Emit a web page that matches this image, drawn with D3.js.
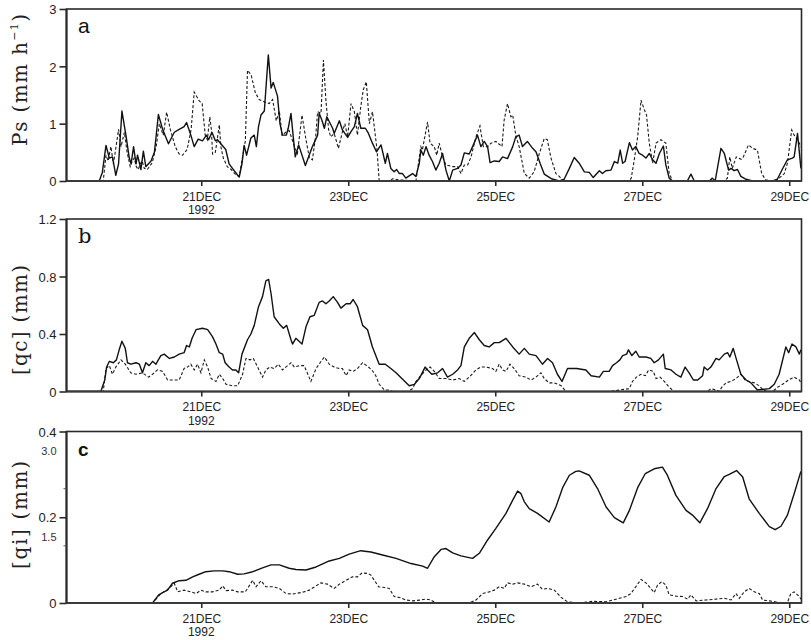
<!DOCTYPE html>
<html><head><meta charset="utf-8">
<script src="https://cdn.jsdelivr.net/npm/d3@7"></script>
<style>body{margin:0;background:#fff}svg{display:block}</style>
</head><body>
<svg id="chart" width="811" height="640"></svg>
<script>
// time in hours since 19DEC1992 00Z
const psSolid = [[4,0],[14.7,0],[15.7,0.15],[16.9,0.62],[18,0.4],[19,0.42],[20.1,0.1],[21,0.3],[22.1,1.22],[23.4,0.8],[24.5,0.4],[25.1,0.3],[25.9,0.6],[26.7,0.3],[27.2,0.45],[28.3,0.2],[29.1,0.52],[29.9,0.25],[31.6,0.35],[32.7,0.5],[33.2,0.75],[34,1.16],[35.4,0.9],[37.3,0.65],[39.2,0.85],[40.8,0.9],[42.4,0.95],[43.2,1.02],[44.6,0.8],[45.7,0.6],[47,0.73],[48.4,0.7],[49.7,0.8],[50.4,0.72],[51.5,0.85],[52.6,0.7],[53.3,0.72],[54.4,0.65],[56,0.55],[57.1,0.3],[58.2,0.22],[59.9,0.1],[60.4,0.07],[61.3,0.3],[62,0.62],[62.8,0.45],[64.2,0.75],[65.3,0.8],[66,0.6],[66.7,0.95],[67.5,1.15],[68.6,1.22],[69.1,1.6],[69.9,2.2],[70.8,1.62],[71.5,1.72],[72.9,1.48],[73.7,1.0],[74.5,0.8],[75.8,0.8],[76.4,0.92],[77.3,1.18],[77.8,0.9],[78.7,0.42],[79.8,0.63],[82,0.27],[84.3,0.6],[86,0.8],[86.5,1.18],[87.4,1.06],[88.2,0.92],[89,1.12],[90.9,0.92],[91.4,0.83],[93.1,1.05],[94.1,0.89],[95.8,0.76],[96.9,0.86],[98,0.95],[99,1.18],[100.1,0.92],[101.6,0.92],[102.6,0.83],[103.9,0.66],[105.2,0.51],[106.7,0.63],[108.1,0.31],[108.8,0.48],[109.9,0.22],[111,0.16],[111.8,0.2],[112.7,0.13],[113.7,0.13],[114.8,0.05],[117,0.13],[118.1,0.08],[119.2,0.31],[119.7,0.54],[120.5,0.45],[121.4,0.6],[122.4,0.45],[123.5,0.34],[124.6,0.19],[125.7,0.31],[126.8,0.48],[127.9,0.19],[129,0],[130.1,0.19],[131.7,0.22],[132.8,0.28],[133.9,0.49],[135.5,0.47],[136.6,0.6],[138.2,0.8],[139.3,0.6],[140.4,0.69],[141.5,0.6],[142.3,0.32],[143.7,0.35],[145.3,0.34],[146.4,0.42],[148,0.39],[149.7,0.6],[150.7,0.77],[151.8,0.8],[152.9,0.6],[154.5,0.69],[156.2,0.57],[157.3,0.51],[158.7,0.3],[160,0.12],[162.3,0.04],[164.9,0],[166.5,0.03],[168.2,0.22],[169.8,0.41],[171.4,0.31],[173.1,0.16],[174.7,0.15],[176,0.06],[178,0.18],[179,0.13],[180.1,0.18],[181.8,0.19],[182.9,0.34],[184,0.31],[184.8,0.54],[185.6,0.31],[186.4,0.34],[187.8,0.67],[188.8,0.54],[189.9,0.6],[191,0.48],[192.1,0.45],[193.2,0.4],[194.3,0.48],[195.4,0.37],[196.5,0.31],[197.6,0.48],[198.9,0.61],[199.7,0.28],[200.8,0.05],[201.9,0],[206.7,0],[207.9,0.12],[209,0],[213.9,0],[214.9,0.05],[215.8,0],[216.8,0.3],[217.7,0.57],[218.8,0.48],[220.2,0.19],[221,0.22],[222,0.18],[223.1,0.2],[224.2,0.08],[225.9,0.03],[228,0],[234.6,0],[236.1,0.03],[237.7,0.2],[239.4,0.37],[241,0.4],[241.6,0.42],[242.7,0.83],[243.3,0.5],[243.8,0.22]];
const psDashed = [[4,0],[16,0],[16.9,0.45],[17.6,0.35],[18.5,0.6],[19.3,0.3],[19.9,0.5],[21,0.9],[21.8,0.6],[22.9,0.85],[23.8,0.5],[24.8,0.25],[25.5,0.35],[26.1,0.4],[26.8,0.25],[27.4,0.2],[28.1,0.3],[28.7,0.35],[29.4,0.22],[30.4,0.2],[32,0.32],[33.3,0.6],[34.3,1.0],[35.6,0.8],[36.7,1.2],[37.9,0.9],[39.5,0.6],[40.8,0.47],[41.9,0.45],[43.4,0.55],[44.7,0.9],[45.7,1.55],[47.3,1.4],[48.3,1.35],[49.3,0.8],[50,0.72],[50.8,1.12],[51.3,0.9],[51.7,0.47],[52.6,0.5],[53.3,0.75],[53.9,0.98],[54.4,0.6],[55.2,0.4],[56.5,0.25],[57.8,0.2],[59.1,0.12],[60.4,0.08],[61.4,0.4],[62.4,0.7],[63.1,1.93],[64.3,1.85],[65.6,1.55],[66.9,1.42],[68.6,1.38],[70.2,1.35],[71.3,1.42],[72.5,1.05],[73.5,1.22],[74.4,0.8],[75.6,0.85],[76.7,0.88],[77.7,0.72],[78.4,0.6],[79.4,0.48],[80.9,1.15],[82.2,0.72],[83.3,0.4],[84.3,0.37],[85.4,0.8],[86,1.21],[87.1,1.18],[87.9,2.11],[88.7,1.41],[89.6,0.89],[90.3,0.77],[91.4,0.83],[92.8,0.57],[94.1,0.86],[94.9,1.0],[95.8,0.77],[96.9,1.35],[98,1.21],[99,0.8],[100.1,1.3],[100.9,1.59],[101.9,1.73],[102.9,1.0],[103.9,1.21],[104.5,0.95],[105.4,0.54],[106.1,0],[109.4,0],[110.5,0.04],[112.7,0.02],[118.1,0],[118.9,0.3],[119.7,0.6],[120.2,0.54],[121.1,0.8],[121.9,1.03],[122.7,0.66],[124.1,0.6],[124.9,0.45],[125.7,0.66],[126.8,0.42],[127.9,0.28],[130.1,0.25],[131.7,0.25],[132.8,0.13],[133.9,0.28],[135,0.28],[136.1,0.42],[137.7,0.77],[139,0.96],[140.1,0.6],[141.5,0.6],[142.6,0.66],[144.2,0.69],[146.2,0.6],[146.9,1.06],[148,1.35],[149.1,1.12],[149.7,1.15],[150.7,0.8],[151.8,0.6],[153.5,0.13],[155.1,0.05],[156.7,0.16],[158.4,0.48],[160,0.74],[161,0.72],[162.2,0.4],[163.8,0.13],[164.9,0.08],[166.2,0],[187.8,0],[188.4,0.05],[189.4,0.37],[190.5,0.77],[191.6,1.41],[192.7,1.24],[193.4,1.15],[194.3,0.66],[195.4,0.31],[196.5,0.66],[198.1,0.72],[199.7,0.66],[200.8,0.13],[201.9,0],[218.8,0],[219.8,0.05],[220.6,0.42],[221.4,0.22],[222.7,0.42],[224.3,0.38],[225,0.42],[226.7,0.63],[228,0.57],[229.6,0.54],[231,0.13],[232.3,0.02],[234.6,0],[236.1,0.02],[238.4,0.13],[239.4,0.31],[240.8,0.89],[241.6,0.8],[242.7,0.72],[243.8,0.6]];
const qcSolid = [[4,0],[15.2,0],[16.5,0.08],[17.1,0.17],[18,0.21],[19.3,0.2],[20.3,0.22],[21.2,0.29],[22.1,0.35],[23.2,0.3],[23.9,0.2],[25,0.19],[26.7,0.2],[27.8,0.19],[28.8,0.13],[29.9,0.2],[31,0.18],[32.1,0.21],[33.2,0.19],[34.8,0.25],[35.9,0.26],[37.6,0.23],[39.2,0.24],[40.8,0.26],[42.4,0.27],[43.2,0.32],[44.1,0.31],[45,0.37],[46.3,0.43],[48.4,0.44],[50.1,0.43],[51.7,0.38],[52.8,0.33],[53.9,0.27],[55,0.26],[55.8,0.2],[57.1,0.17],[58.2,0.15],[59.3,0.15],[60.2,0.13],[61.3,0.26],[63.1,0.36],[64.2,0.4],[65.3,0.46],[66.7,0.59],[68,0.66],[69.1,0.77],[70,0.78],[70.8,0.68],[71.8,0.52],[73.5,0.47],[74.8,0.44],[75.9,0.46],[77.3,0.36],[77.8,0.33],[78.9,0.37],[80.9,0.33],[82.2,0.45],[83.5,0.52],[84.9,0.53],[86.5,0.62],[87.6,0.63],[88.7,0.61],[89.8,0.63],[91.1,0.66],[92.5,0.62],[93.6,0.58],[95.3,0.61],[96.6,0.61],[97.6,0.64],[99,0.59],[100.7,0.46],[102.3,0.43],[103.9,0.31],[106.1,0.19],[108.1,0.19],[109.9,0.16],[111.6,0.13],[113.5,0.09],[115.9,0.04],[117.6,0.05],[119.2,0.09],[121.1,0.17],[121.9,0.15],[123.3,0.12],[125.2,0.13],[126.8,0.16],[128.4,0.1],[130.1,0.12],[131.7,0.15],[132.8,0.18],[133.9,0.31],[135.5,0.37],[137.2,0.41],[138.8,0.36],[140.4,0.32],[142,0.31],[143.7,0.34],[145.3,0.34],[147.5,0.37],[149.7,0.31],[151.8,0.26],[153.5,0.3],[155.1,0.26],[157.3,0.25],[159.4,0.19],[161.1,0.23],[162.7,0.2],[164.3,0.12],[165.8,0.07],[167.6,0.16],[170.6,0.16],[173.6,0.15],[175.3,0.11],[178,0.1],[179.3,0.14],[181.2,0.14],[182.3,0.18],[183.6,0.2],[184.7,0.22],[185.6,0.25],[186.9,0.26],[187.5,0.29],[188.6,0.25],[189.9,0.28],[191,0.24],[193.2,0.24],[194.8,0.23],[195.9,0.2],[197.3,0.22],[198.9,0.26],[199.5,0.16],[201.4,0.15],[203,0.12],[204.6,0.1],[206,0.17],[207.3,0.13],[208.7,0.08],[210.1,0.08],[211.7,0.11],[212.2,0.17],[213.3,0.15],[214.4,0.17],[216.1,0.23],[217.1,0.22],[218.8,0.26],[219.9,0.27],[220.6,0.24],[221.7,0.3],[222.8,0.22],[224.2,0.12],[225.9,0.08],[227.5,0.06],[229.6,0.01],[233.5,0.02],[235.1,0.05],[236.7,0.12],[238.9,0.31],[239.8,0.27],[240.9,0.33],[242.2,0.31],[243.3,0.26],[243.8,0.29]];
const qcDashed = [[4,0],[16,0],[16.9,0.16],[18,0.18],[19,0.12],[20.1,0.17],[21.8,0.22],[23.2,0.19],[25,0.13],[26.7,0.12],[28.8,0.13],[30.8,0.1],[32.1,0.12],[33.7,0.15],[35.4,0.14],[37,0.08],[39.2,0.08],[40.8,0.08],[42.4,0.16],[43.5,0.17],[44.6,0.19],[45.7,0.15],[46.8,0.19],[47.9,0.13],[49,0.22],[50.1,0.17],[51.2,0.09],[52.8,0.07],[53.9,0.12],[55,0.09],[56.1,0.05],[58.2,0.04],[59.9,0.04],[61.5,0.12],[62.6,0.23],[63.9,0.22],[65,0.23],[66.4,0.17],[68,0.1],[69.1,0.15],[70.4,0.17],[71.8,0.16],[73.2,0.19],[74.5,0.15],[76.2,0.18],[77.3,0.2],[78.4,0.17],[80,0.18],[81.6,0.18],[83.8,0.07],[85.5,0.16],[86.8,0.2],[88.2,0.24],[89.8,0.19],[91.4,0.17],[93.1,0.16],[94.1,0.16],[95.3,0.11],[96.3,0.15],[97.6,0.14],[99,0.16],[100.7,0.2],[102,0.18],[103.7,0.15],[105,0.11],[106.1,0.05],[107.8,0.01],[109.4,0.01],[110.5,0],[115.4,0],[117,0.02],[118.1,0.07],[119.7,0.11],[121.4,0.15],[122.7,0.17],[124.1,0.14],[125.7,0.09],[127.9,0.09],[130.1,0.08],[132.2,0.09],[133.9,0.07],[135.5,0.1],[137.7,0.15],[139.3,0.17],[141,0.17],[143.1,0.16],[144.2,0.14],[145.3,0.19],[146.4,0.15],[147.5,0.14],[148.8,0.19],[150.2,0.16],[151.8,0.11],[154,0.1],[155.7,0.08],[157.3,0.1],[158.9,0.13],[160,0.09],[161.6,0.06],[163.3,0.06],[165.5,0.04],[167.1,0],[181.2,0],[184.5,0.01],[187.8,0.02],[188.8,0.07],[190.1,0.1],[191.6,0.12],[193,0.11],[194.1,0.15],[195.6,0.14],[196.5,0.09],[197.8,0.1],[199.2,0.07],[200.8,0.03],[202.4,0],[213.3,0],[214.4,0.02],[216.1,0.01],[217.1,0],[218,0.03],[219.3,0.06],[220.9,0.07],[222.6,0.09],[224.2,0.12],[225.6,0.08],[226.9,0.07],[228.6,0.06],[230.2,0.04],[231.5,0.01],[232.9,0],[234.6,0],[236.2,0.03],[237.8,0.05],[239.8,0.08],[241.6,0.1],[243.3,0.08],[243.8,0.06]];
const qiSolid = [[4,0],[32.1,0],[34.1,0.019],[35.4,0.024],[37,0.03],[38.6,0.046],[40.8,0.052],[43,0.053],[45.2,0.061],[47.3,0.067],[49.5,0.073],[52.2,0.075],[55,0.075],[57.1,0.073],[59.9,0.067],[62,0.068],[64.8,0.073],[68,0.082],[70.8,0.089],[73.5,0.089],[76.7,0.081],[78.9,0.078],[82.2,0.077],[85.5,0.084],[89.8,0.098],[93.1,0.104],[96.3,0.114],[100.1,0.122],[103.4,0.119],[107.2,0.112],[111.6,0.104],[116.5,0.092],[120.3,0.086],[121.9,0.081],[124.1,0.108],[126.3,0.125],[127.9,0.127],[130.1,0.117],[132.8,0.11],[136.6,0.104],[138.8,0.116],[141.5,0.147],[144.2,0.174],[147.5,0.209],[149.7,0.24],[151.3,0.261],[152.4,0.255],[153.5,0.236],[155.1,0.22],[157.8,0.209],[161.6,0.189],[163.8,0.224],[166,0.269],[168.2,0.298],[170.3,0.307],[171.4,0.308],[174.7,0.298],[177.4,0.267],[180.2,0.224],[182.9,0.199],[185.8,0.187],[187.8,0.216],[190.5,0.269],[193,0.302],[195.9,0.313],[198.6,0.317],[200.2,0.298],[203,0.251],[206.3,0.216],[208.4,0.205],[210.8,0.187],[213.3,0.22],[216.1,0.267],[218.8,0.295],[220.4,0.3],[222.8,0.309],[224.8,0.294],[226.9,0.243],[230.2,0.209],[233.5,0.178],[235.4,0.171],[237.3,0.179],[239.4,0.205],[241.6,0.255],[243.8,0.307]];
const qiDashed = [[4,0],[32.1,0],[34.8,0.022],[36.5,0.029],[38.1,0.038],[39.2,0.046],[40.3,0.026],[42.4,0.03],[44.6,0.026],[46.3,0.022],[47.9,0.03],[49.5,0.026],[51.7,0.026],[53.9,0.03],[55,0.04],[56.1,0.029],[58.2,0.03],[59.9,0.026],[62.4,0.026],[64.8,0.053],[65.9,0.038],[67.5,0.052],[69.1,0.038],[71.3,0.038],[73.5,0.034],[75.7,0.022],[77.8,0.021],[81.1,0.025],[83.3,0.03],[85.5,0.04],[87.1,0.047],[89.2,0.044],[91.4,0.034],[93.1,0.044],[95.3,0.053],[97.4,0.061],[99,0.061],[100.5,0.07],[102.3,0.069],[103.4,0.065],[105.9,0.038],[107.8,0.036],[109.4,0.034],[111,0.015],[112.7,0.013],[114.8,0.007],[117,0.005],[119.7,0.007],[121.4,0.009],[123,0.007],[124.6,0],[135.5,0],[137.7,0.007],[139.9,0.022],[142,0.026],[143.7,0.03],[145.3,0.038],[146.9,0.034],[148,0.047],[149.7,0.044],[151.3,0.047],[153.5,0.044],[155.7,0.038],[157.8,0.044],[159.4,0.032],[161.1,0.034],[163.3,0.03],[165.5,0.013],[167.6,0.003],[169.8,0.001],[171.4,0],[175.8,0.004],[180.2,0.003],[182.3,0.007],[184.5,0.011],[186.7,0.015],[188.3,0.022],[189.9,0.038],[191.6,0.055],[193.2,0.047],[194.8,0.034],[195.9,0.024],[197,0.042],[198.4,0.05],[199.7,0.042],[200.8,0.019],[203,0.016],[205.2,0.015],[206.8,0.009],[207.9,0.019],[209.6,0.005],[212.8,0.007],[216.1,0.009],[218.8,0.011],[221,0.007],[222.6,0.022],[223.7,0.011],[225.3,0.026],[226.9,0.034],[228.6,0.026],[230.2,0.022],[231.3,0.007],[233.5,0.005],[236.7,0.001],[239.4,0.001],[240.5,0.022],[241.6,0.026],[243.3,0.015],[243.8,0.009]];

const timeDomain = [4, 244];
const xTickHours = [48, 96, 144, 192, 240];
const xTickLabels = ["21DEC", "23DEC", "25DEC", "27DEC", "29DEC"];
const yearLabel = "1992";
const psTicks = [0, 1, 2, 3];
const psTickLabels = ["0", "1", "2", "3"];
const qcTicks = [0, 0.4, 0.8, 1.2];
const qcTickLabels = ["0", "0.4", "0.8", "1.2"];
const qiTicks = [0, 0.2, 0.4];
const qiTickLabels = ["0", "0.2", "0.4"];
const qiAltTicks = [1.5, 3.0];
const qiAltTickLabels = ["1.5", "3.0"];

const svg = d3.select("#chart");
const left = 66.5, right = 801.5;
const x = d3.scaleLinear().domain(timeDomain).range([left, right]);

const panels = [
  {top: 9, bottom: 181, dom: [0, 3], ticks: psTicks, labels: psTickLabels, solid: psSolid, dashed: psDashed,
   letter: "a", letterFont: "'Liberation Sans', Arial, sans-serif", letterSize: 21, letterWeight: "normal",
   ylab: ["Ps (mm h", "−1", ")"], labLen: 132, labCenter: 80},
  {top: 219, bottom: 391.5, dom: [0, 1.2], ticks: qcTicks, labels: qcTickLabels, solid: qcSolid, dashed: qcDashed,
   letter: "b", letterFont: "'DejaVu Serif', serif", letterSize: 21, letterWeight: "normal",
   ylab: ["[qc] (mm)"], labLen: 110, labCenter: 320},
  {top: 431.5, bottom: 603, dom: [0, 0.4], ticks: qiTicks, labels: qiTickLabels, solid: qiSolid, dashed: qiDashed,
   letter: "c", letterFont: "'Liberation Sans', Arial, sans-serif", letterSize: 19, letterWeight: "bold",
   ylab: ["[qi] (mm)"], labLen: 108, labCenter: 515}
];

const axisColor = "#2a2a2a";
const tickFont = "'Liberation Sans', Arial, sans-serif";

panels.forEach((p, i) => {
  const y = d3.scaleLinear().domain(p.dom).range([p.bottom, p.top]);
  const g = svg.append("g");
  const clipId = "clip" + i;
  svg.append("clipPath").attr("id", clipId).append("rect")
    .attr("x", left).attr("y", p.top - 1).attr("width", right - left).attr("height", p.bottom - p.top + 1);

  const line = d3.line().x(d => x(d[0])).y(d => y(d[1]));
  g.append("path").datum(p.dashed).attr("d", line).attr("clip-path", `url(#${clipId})`)
    .attr("fill", "none").attr("stroke", "#1a1a1a").attr("stroke-width", 1.1).attr("stroke-dasharray", "3,2");
  g.append("path").datum(p.solid).attr("d", line).attr("clip-path", `url(#${clipId})`)
    .attr("fill", "none").attr("stroke", "#111").attr("stroke-width", 1.4).attr("stroke-linejoin", "round");

  // frame
  g.append("rect").attr("x", left).attr("y", p.top).attr("width", right - left).attr("height", p.bottom - p.top)
    .attr("fill", "none").attr("stroke", axisColor).attr("stroke-width", 1.6);
  g.append("line").attr("x1", left).attr("x2", right).attr("y1", p.bottom).attr("y2", p.bottom)
    .attr("stroke", "#3a3a3a").attr("stroke-width", 2.2);
  g.append("line").attr("x1", left).attr("x2", left).attr("y1", p.top).attr("y2", p.bottom)
    .attr("stroke", axisColor).attr("stroke-width", 2);

  // x axis
  const xAxis = d3.axisBottom(x).tickValues(xTickHours).tickSize(5).tickPadding(4)
    .tickFormat((d, j) => xTickLabels[j]);
  const xg = g.append("g").attr("transform", `translate(0,${p.bottom})`).call(xAxis);
  xg.select(".domain").remove();
  xg.selectAll(".tick line").attr("stroke", axisColor).attr("stroke-width", 1.6);
  xg.selectAll(".tick text").attr("font-family", tickFont)
    .attr("font-size", 12).attr("fill", "#222").attr("y", 19.5).attr("dy", 0);
  g.append("text").attr("x", x(xTickHours[0])).attr("y", p.bottom + 33).attr("text-anchor", "middle")
    .attr("font-family", tickFont).attr("font-size", 12).attr("fill", "#222")
    .text(yearLabel);

  // y axis
  const yAxis = d3.axisLeft(y).tickValues(p.ticks).tickSize(7).tickPadding(3)
    .tickFormat((d, j) => p.labels[j]);
  const yg = g.append("g").attr("transform", `translate(${left},0)`).call(yAxis);
  yg.select(".domain").remove();
  yg.selectAll(".tick line").attr("stroke", axisColor).attr("stroke-width", 1.6);
  yg.selectAll(".tick text").attr("font-family", tickFont)
    .attr("font-size", 13).attr("fill", "#222").attr("dy", "0.36em");

  // panel letter
  g.append("text").attr("x", 78).attr("y", p.top + 24)
    .attr("font-family", p.letterFont).attr("font-size", p.letterSize).attr("font-weight", p.letterWeight)
    .attr("fill", "#111").text(p.letter);

  // y label
  const t = g.append("text").attr("transform", `translate(27,${p.labCenter}) rotate(-90)`)
    .attr("text-anchor", "middle").attr("font-family", "'DejaVu Serif', serif")
    .attr("font-size", 20).attr("fill", "#222")
    .attr("textLength", p.labLen).attr("lengthAdjust", "spacing");
  if (p.ylab.length === 3) {
    t.append("tspan").text(p.ylab[0]);
    t.append("tspan").attr("font-size", 11).attr("dy", -9).text(p.ylab[1]);
    t.append("tspan").attr("dy", 9).text(p.ylab[2]);
  } else {
    t.text(p.ylab[0]);
  }

  if (i === 2) {
    const yAlt = d3.scaleLinear().domain([0, 4.5]).range([p.bottom, p.top]);
    const altShift = [-9, -38];
    qiAltTicks.forEach((v, j) => {
      g.append("line").attr("x1", left - 3).attr("x2", left).attr("y1", yAlt(v)).attr("y2", yAlt(v))
        .attr("stroke", "#555").attr("stroke-width", 1);
      g.append("text").attr("x", left - 10).attr("y", yAlt(v) + altShift[j]).attr("dy", "0.36em")
        .attr("text-anchor", "end").attr("font-family", tickFont)
        .attr("font-size", 11).attr("fill", "#333").text(qiAltTickLabels[j]);
    });
  }
});
</script>
</body></html>
